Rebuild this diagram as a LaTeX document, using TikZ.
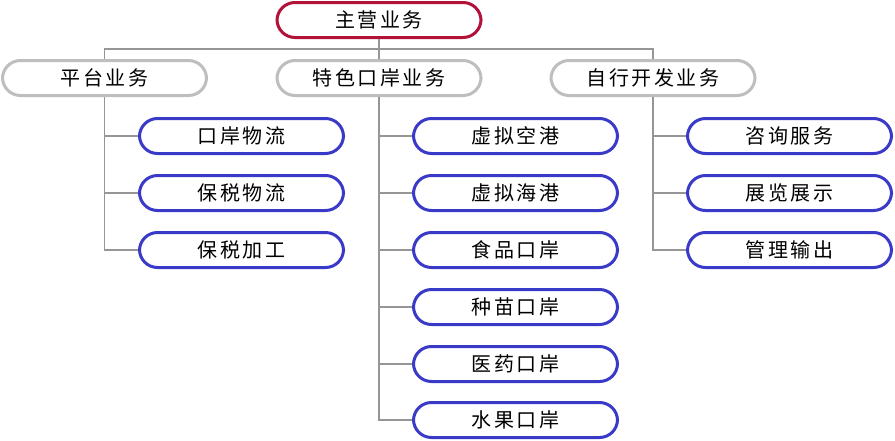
\documentclass[tikz,border=0pt]{standalone}
\usepackage{fontspec}
\newfontfamily\cjk[LetterSpace=13]{Noto Sans CJK SC}

\begin{document}
\begin{tikzpicture}[
  x=1pt, y=-1pt,
  box/.style={rounded corners=18pt, line width=3pt, fill=white,
    minimum width=204pt, minimum height=35pt, inner sep=0pt,
    font=\cjk\fontsize{20pt}{22pt}\selectfont, text=black},
  topbox/.style={box, draw={rgb,255:red,178;green,18;blue,58}},
  midbox/.style={box, draw={rgb,255:red,190;green,190;blue,190}},
  leafbox/.style={box, draw={rgb,255:red,58;green,58;blue,200}},
  link/.style={draw={rgb,255:red,150;green,150;blue,150}, line width=1.5pt},
]
  \useasboundingbox (0,0) rectangle (895,440);

  % 顶层
  \node[topbox] (main) at (379,20) {主营业务};

  % 第二层
  \node[midbox] (plat) at (104.5,78) {平台业务};
  \node[midbox] (port) at (379,78) {特色口岸业务};
  \node[midbox] (self) at (653,78) {自行开发业务};

  % 平台业务
  \node[leafbox] (wuliu) at (241.5,136) {口岸物流};
  \node[leafbox] (bswl)  at (241.5,193) {保税物流};
  \node[leafbox] (bsjg)  at (241.5,250) {保税加工};

  % 特色口岸业务
  \node[leafbox] (kong)  at (515.5,136) {虚拟空港};
  \node[leafbox] (hai)   at (515.5,193) {虚拟海港};
  \node[leafbox] (food)  at (515.5,250) {食品口岸};
  \node[leafbox] (seed)  at (515.5,307) {种苗口岸};
  \node[leafbox] (drug)  at (515.5,364) {医药口岸};
  \node[leafbox] (fruit) at (515.5,420) {水果口岸};

  % 自行开发业务
  \node[leafbox] (zixun) at (789.5,136) {咨询服务};
  \node[leafbox] (zhan)  at (789.5,193) {展览展示};
  \node[leafbox] (guan)  at (789.5,250) {管理输出};

  % 连线
  \coordinate (bar) at (379,49);
  \draw[link] (main.south) -- (port.north);
  \draw[link] (bar) -| (plat.north);
  \draw[link] (bar) -| (self.north);

  \draw[link] (plat.south) |- (wuliu.west);
  \draw[link] (plat.south) |- (bswl.west);
  \draw[link] (plat.south) |- (bsjg.west);

  \draw[link] (port.south) |- (kong.west);
  \draw[link] (port.south) |- (hai.west);
  \draw[link] (port.south) |- (food.west);
  \draw[link] (port.south) |- (seed.west);
  \draw[link] (port.south) |- (drug.west);
  \draw[link] (port.south) |- (fruit.west);

  \draw[link] (self.south) |- (zixun.west);
  \draw[link] (self.south) |- (zhan.west);
  \draw[link] (self.south) |- (guan.west);
\end{tikzpicture}
\end{document}
